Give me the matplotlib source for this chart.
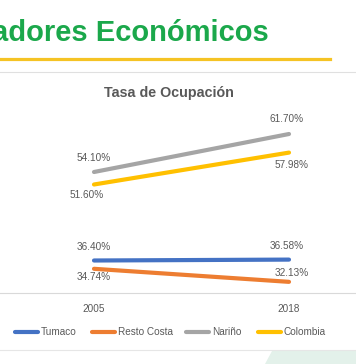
import matplotlib.pyplot as plt
from matplotlib.lines import Line2D
from matplotlib.patches import Polygon

plt.rcParams['font.family'] = ['Liberation Sans', 'DejaVu Sans']

years = ['2005', '2018']
series = ['Tumaco', 'Resto Costa', 'Nariño', 'Colombia']
tumaco = [36.40, 36.58]
resto_costa = [34.74, 32.13]
narino = [54.10, 61.70]
colombia = [51.60, 57.98]

values = [tumaco, resto_costa, narino, colombia]
colors = ['#4472C4', '#ED7D31', '#A5A5A5', '#FFC000']
# label offsets in pixels (2005, 2018)
offsets = [[(0, 14), (-2, 14)],
           [(0, -8), (3, 9)],
           [(0, 14), (-2, 15)],
           [(-7, -11), (3, -12)]]

W, H = 356, 364
fig = plt.figure(figsize=(W / 100, H / 100), dpi=100)
fig.patch.set_facecolor('white')

def fx(x):
    return x / W

def fy(y):
    return 1 - y / H

# slide header (cut off on the left, as in the slide)
fig.text(fx(269), fy(41), 'Indicadores Económicos', ha='right', va='baseline',
         fontsize=21, fontweight='bold', color='#1BA84B')
fig.add_artist(Line2D([0, fx(330)], [fy(59), fy(59)], color='#F5C324', lw=2.3))
fig.add_artist(Line2D([0, 1], [fy(72), fy(72)], color='#E0E0E0', lw=0.8))

# chart
ax = fig.add_axes([fx(-3.5), fy(292.5), fx(390), (292.5 - 92.5) / H])
ax.set_facecolor('none')
x = range(len(years))
for vals, col, offs in zip(values, colors, offsets):
    ax.plot(x, vals, color=col, lw=3, solid_capstyle='round')
    for xi, v, (dx, dy) in zip(x, vals, offs):
        ax.annotate(f'{v:.2f}%', (xi, v), xytext=(dx, dy), textcoords='offset pixels',
                    ha='center', va='center', fontsize=7.2, color='#595959')

ax.set_xlim(-0.5, 1.5)
ax.set_ylim(30, 70)
ax.set_xticks(list(x))
ax.set_xticklabels(years, fontsize=7.2, color='#595959')
ax.tick_params(axis='x', length=0, pad=8)
ax.set_yticks([])
for s in ['top', 'left', 'right']:
    ax.spines[s].set_visible(False)
ax.spines['bottom'].set_color('#D9D9D9')
ax.spines['bottom'].set_linewidth(0.8)

fig.text(fx(168.5), fy(93), 'Tasa de Ocupación', ha='center', va='center',
         fontsize=10.3, fontweight='bold', color='#595959')

# legend
leg_x = [13, 90, 184, 256]
for name, col, lx in zip(series, colors, leg_x):
    fig.add_artist(Line2D([fx(lx + 2), fx(lx + 25)], [fy(332), fy(332)], color=col,
                          lw=3, solid_capstyle='round'))
    fig.text(fx(lx + 28), fy(332), name, ha='left', va='center', fontsize=7.2, color='#595959')

fig.add_artist(Line2D([0, 1], [fy(349.5), fy(349.5)], color='#E6E6E6', lw=0.8))
fig.add_artist(Polygon([[fx(272), fy(351)], [1, fy(351)], [1, 0], [fx(265), 0]],
                       closed=True, facecolor='#E3F1EA', edgecolor='none',
                       transform=fig.transFigure))

fig.savefig('out.png', dpi=100)
